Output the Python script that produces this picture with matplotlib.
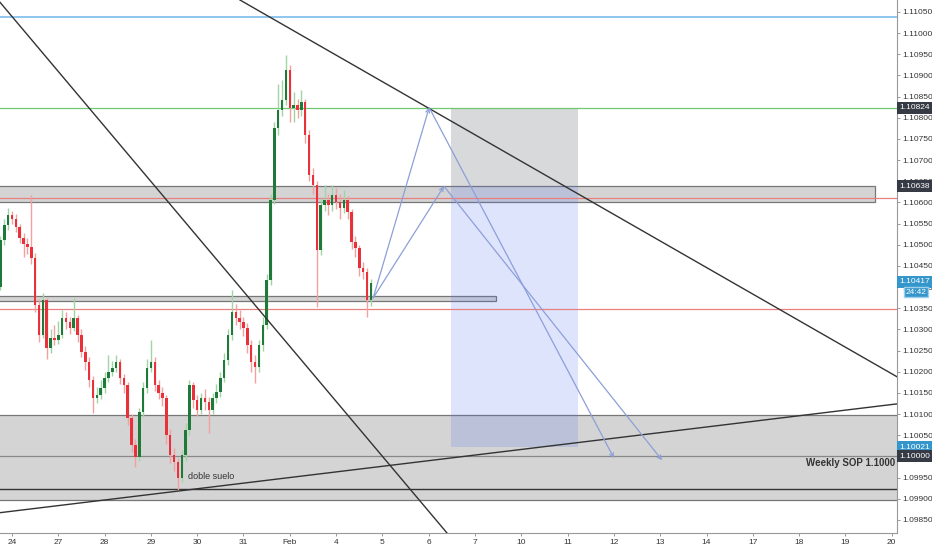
import numpy as np
import matplotlib.pyplot as plt
from matplotlib.patches import Rectangle
import matplotlib.transforms as mtransforms

plt.rcParams['font.family'] = ['Liberation Sans Narrow', 'Liberation Sans', 'DejaVu Sans']

# trading-day axis labels (weekends skipped, like the chart)
day_labels = ['24', '27', '28', '29', '30', '31', 'Feb', '4', '5', '6',
              '7', '10', '11', '12', '13', '14', '17', '18', '19', '20']

# 2-hour candles starting Jan 23, 18:00 (in trading-day units)
first_candle_day = -0.25
candle_step = 1 / 12
first_open = 1.10400
closes = [1.10511, 1.10547, 1.10570, 1.10561, 1.10542, 1.10516, 1.10502, 1.10495, 1.10469, 1.10358,
          1.10287, 1.10369, 1.10256, 1.10280, 1.10275, 1.10287, 1.10327, 1.10317, 1.10303, 1.10327,
          1.10287, 1.10247, 1.10223, 1.10180, 1.10138, 1.10145, 1.10162, 1.10185, 1.10199, 1.10209,
          1.10223, 1.10185, 1.10169, 1.10091, 1.10027, 1.09999, 1.10105, 1.10162, 1.10209, 1.10223,
          1.10169, 1.10150, 1.10138, 1.10051, 1.10003, 1.09987, 1.09949, 1.10003, 1.10062, 1.10169,
          1.10133, 1.10110, 1.10138, 1.10128, 1.10110, 1.10138, 1.10152, 1.10185, 1.10228, 1.10287,
          1.10341, 1.10327, 1.10317, 1.10303, 1.10263, 1.10223, 1.10211, 1.10263, 1.10310, 1.10417,
          1.10606, 1.10776, 1.10818, 1.10842, 1.10913, 1.10823, 1.10830, 1.10818, 1.10837, 1.10759,
          1.10665, 1.10641, 1.10488, 1.10594, 1.10606, 1.10594, 1.10617, 1.10601, 1.10587, 1.10606,
          1.10577, 1.10506, 1.10492, 1.10445, 1.10436, 1.10369, 1.10410]
highs = [1.10520, 1.10560, 1.10587, 1.10580, 1.10572, 1.10550, 1.10528, 1.10515, 1.10618, 1.10480,
         1.10372, 1.10385, 1.10375, 1.10300, 1.10310, 1.10320, 1.10345, 1.10340, 1.10330, 1.10374,
         1.10335, 1.10300, 1.10260, 1.10235, 1.10190, 1.10165, 1.10180, 1.10200, 1.10240, 1.10225,
         1.10240, 1.10230, 1.10195, 1.10175, 1.10100, 1.10040, 1.10115, 1.10175, 1.10230, 1.10275,
         1.10235, 1.10180, 1.10165, 1.10145, 1.10065, 1.10020, 1.09995, 1.10015, 1.10080, 1.10180,
         1.10175, 1.10145, 1.10150, 1.10160, 1.10140, 1.10150, 1.10170, 1.10200, 1.10245, 1.10300,
         1.10393, 1.10360, 1.10345, 1.10330, 1.10315, 1.10275, 1.10240, 1.10275, 1.10330, 1.10430,
         1.10620, 1.10790, 1.10880, 1.10890, 1.10948, 1.10925, 1.10860, 1.10845, 1.10865, 1.10845,
         1.10770, 1.10680, 1.10650, 1.10610, 1.10640, 1.10620, 1.10640, 1.10635, 1.10620, 1.10630,
         1.10615, 1.10585, 1.10520, 1.10500, 1.10460, 1.10445, 1.10420]
lows = [1.10392, 1.10500, 1.10535, 1.10548, 1.10530, 1.10505, 1.10470, 1.10478, 1.10455, 1.10340,
        1.10270, 1.10280, 1.10230, 1.10245, 1.10262, 1.10265, 1.10280, 1.10300, 1.10290, 1.10295,
        1.10270, 1.10235, 1.10205, 1.10165, 1.10103, 1.10125, 1.10135, 1.10150, 1.10175, 1.10190,
        1.10200, 1.10170, 1.10150, 1.10075, 1.10010, 1.09975, 1.09990, 1.10095, 1.10150, 1.10200,
        1.10155, 1.10135, 1.10120, 1.10030, 1.09985, 1.09965, 1.09921, 1.09940, 1.09990, 1.10050,
        1.10115, 1.10095, 1.10100, 1.10110, 1.10055, 1.10100, 1.10125, 1.10140, 1.10175, 1.10215,
        1.10275, 1.10310, 1.10300, 1.10285, 1.10245, 1.10200, 1.10174, 1.10200, 1.10250, 1.10300,
        1.10405, 1.10595, 1.10760, 1.10805, 1.10830, 1.10790, 1.10790, 1.10800, 1.10805, 1.10740,
        1.10650, 1.10620, 1.10353, 1.10475, 1.10580, 1.10570, 1.10580, 1.10585, 1.10560, 1.10575,
        1.10560, 1.10490, 1.10470, 1.10425, 1.10420, 1.10329, 1.10355]

# horizontal levels
blue_level = 1.11039
green_level = 1.10824
red_levels = [1.10611, 1.10348]
sop_level = 1.10000
black_level = 1.09923

# zones: (start day, end day, low, high)
upper_zone = (-1.0, 18.64, 1.10602, 1.10638)
small_zone = (-1.0, 10.45, 1.10367, 1.10379)
big_zone = (-1.0, 25.0, 1.09897, 1.10098)

# position tool
pos_start, pos_end = 9.48, 12.22
pos_target_top, pos_entry, pos_bottom = 1.10824, 1.10638, 1.10021

# projected paths
path_a = [(7.80, 1.10374), (9.01, 1.10824), (13.00, 1.09996)]
path_b = [(7.80, 1.10374), (9.33, 1.10638), (14.04, 1.09991)]

# trend lines, two points each
trend_lines = [((4.428, 1.10464), (9.395, 1.09819)),
               ((4.924, 1.11078), (19.114, 1.10188)),
               ((-0.259, 1.09867), (19.114, 1.10124))]

# right-scale tags
last_price_tag = 1.10412
countdown_tag = 1.10388

x_min, x_max = -0.259, 19.114
y_min, y_max = 1.09819, 1.11078

fig = plt.figure(figsize=(9.32, 5.50), dpi=100)
ax = fig.add_axes([0, 17 / 550, 897 / 932, 533 / 550])
ax.set_xlim(x_min, x_max)
ax.set_ylim(y_min, y_max)

# zones
for z in [big_zone, upper_zone, small_zone]:
    ax.add_patch(Rectangle((z[0], z[2]), z[1] - z[0], z[3] - z[2],
                           facecolor='#d4d4d4', edgecolor='#777777', lw=0.9, zorder=1))

# position tool boxes
ax.add_patch(Rectangle((pos_start, pos_entry), pos_end - pos_start, pos_target_top - pos_entry,
                       facecolor='#7f8288', alpha=0.3, edgecolor='none', zorder=2))
ax.add_patch(Rectangle((pos_start, pos_bottom), pos_end - pos_start, pos_entry - pos_bottom,
                       facecolor='#4a6cf0', alpha=0.18, edgecolor='none', zorder=2))

# horizontal lines
ax.axhline(blue_level, color='#8ec6ef', lw=1.4, zorder=3)
ax.axhline(green_level, color='#70c870', lw=0.9, zorder=3)
for lvl in red_levels:
    ax.axhline(lvl, color='#e98080', lw=0.9, zorder=3)
ax.axhline(sop_level, color='#888888', lw=0.9, zorder=3)
ax.axhline(black_level, color='#333333', lw=1.0, zorder=3)

# candles
closes = np.array(closes)
opens = np.concatenate([[first_open], closes[:-1]])
highs = np.array(highs)
lows = np.array(lows)
xs = first_candle_day + candle_step * np.arange(len(closes))
up = closes >= opens
wick_col = np.where(up, '#9fd5a5', '#f2a0a0')
ax.vlines(xs, lows, highs, colors=wick_col, lw=1.0, zorder=4)
body_col = np.where(up, '#1f7a3a', '#e8313a')
body_h = np.maximum(np.abs(closes - opens), 0.00002)
ax.bar(xs, body_h, bottom=np.minimum(opens, closes), width=candle_step * 0.65,
       color=body_col, edgecolor='none', zorder=5)

# trend lines
for p1, p2 in trend_lines:
    ax.axline(p1, p2, color='#333333', lw=1.0, zorder=6)

# projected arrows
for path in [path_a, path_b]:
    for (xa, ya), (xb, yb) in zip(path[:-1], path[1:]):
        ax.annotate('', xy=(xb, yb), xytext=(xa, ya),
                    arrowprops=dict(arrowstyle='->', color='#8d9fd8', lw=0.9,
                                    shrinkA=0, shrinkB=0, mutation_scale=7),
                    zorder=7)

trans = mtransforms.blended_transform_factory(ax.transAxes, ax.transData)

# texts
ax.text(3.80, 1.09952, 'doble suelo', fontsize=6.5, color='#333333', ha='left', va='center', zorder=8)
ax.text(0.998, 1.09985, 'Weekly SOP 1.1000', transform=trans,
        fontsize=7, fontweight='bold', color='#333333', ha='right', va='center', zorder=8)

# axes styling
ax.yaxis.tick_right()
yt = np.arange(1.0985, 1.11051, 0.0005)
ax.set_yticks(yt)
ax.set_yticklabels(['{:.5f}'.format(v) for v in yt])
ax.set_xticks(np.arange(len(day_labels)))
ax.set_xticklabels(day_labels)
ax.tick_params(axis='both', labelsize=6, colors='#888888', labelcolor='#333333', length=2.5, width=0.6)
ax.tick_params(axis='y', pad=1.5)
ax.tick_params(axis='x', pad=2)
for s in ['top', 'left']:
    ax.spines[s].set_visible(False)
for s in ['right', 'bottom']:
    ax.spines[s].set_color('#999999')
    ax.spines[s].set_linewidth(0.8)

# price labels on the right scale
price_tags = [(green_level, '1.10824', '#363a45'),
              (upper_zone[3], '1.10638', '#363a45'),
              (last_price_tag, '1.10417', '#3596cb'),
              (pos_bottom, '1.10021', '#3596cb'),
              (sop_level, '1.10000', '#363a45')]
for price, label, col in price_tags:
    ax.annotate(label, xy=(1, price), xycoords=trans, xytext=(1.5, 0), textcoords='offset points',
                ha='left', va='center', fontsize=6, color='white', annotation_clip=False,
                bbox=dict(boxstyle='square,pad=0.3', fc=col, ec='none'), zorder=10)
ax.annotate('24:42', xy=(1, countdown_tag), xycoords=trans, xytext=(6, 0), textcoords='offset points',
            ha='left', va='center', fontsize=6, color='white', annotation_clip=False,
            bbox=dict(boxstyle='square,pad=0.2', fc='#3596cb', ec='#9fd0ea'), zorder=10)

fig.savefig('out.png', dpi=100, facecolor='white')
